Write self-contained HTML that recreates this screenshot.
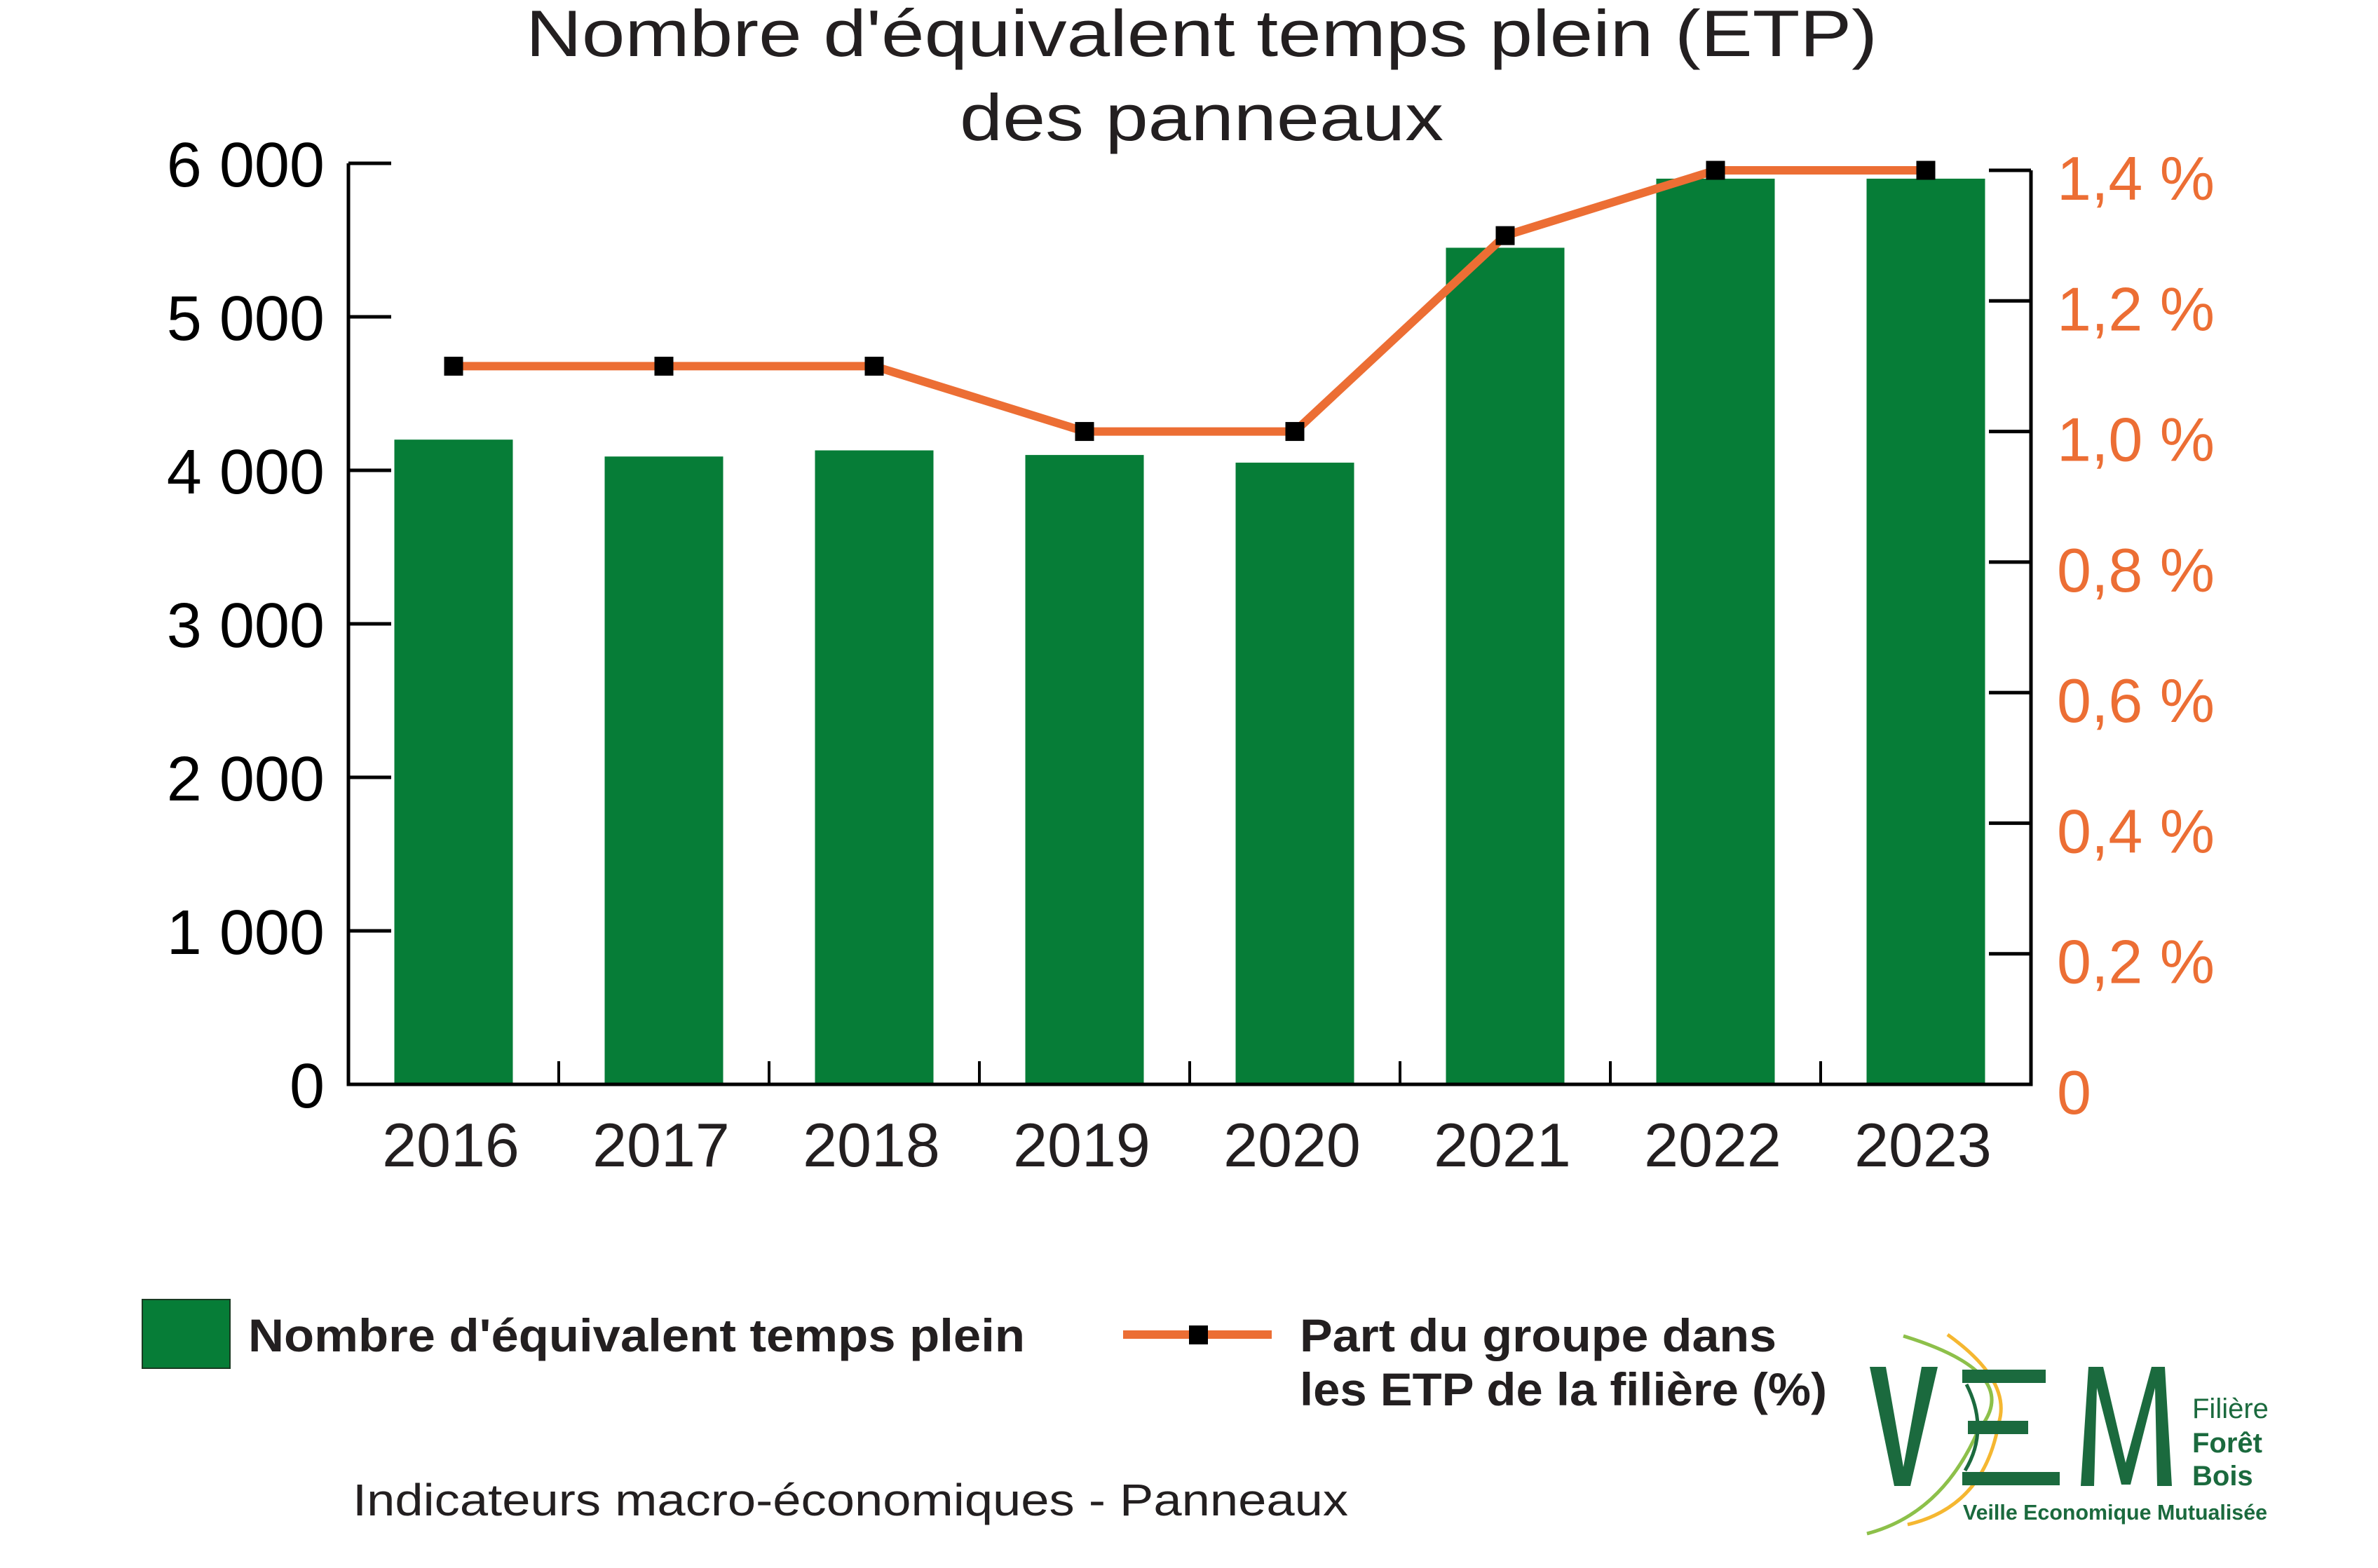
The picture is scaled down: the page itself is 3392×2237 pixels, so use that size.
<!DOCTYPE html>
<html><head><meta charset="utf-8"><style>
html,body{margin:0;padding:0;background:#fff;}
svg{display:block;}
text{font-family:"Liberation Sans",sans-serif;}
</style></head><body>
<svg id="chart" width="3392" height="2237" viewBox="0 0 3392 2237" xmlns="http://www.w3.org/2000/svg">
<g fill="#231f20" font-size="94" text-anchor="middle">
<text x="1714" y="80" textLength="1928" lengthAdjust="spacingAndGlyphs">Nombre d'équivalent temps plein (ETP)</text>
<text x="1714" y="200" textLength="690" lengthAdjust="spacingAndGlyphs">des panneaux</text>
</g>
<g id="plot"></g>
<g>
<rect x="203" y="1854" width="125" height="98" fill="#067d37" stroke="#1a3a22" stroke-width="2"/>
<text x="354" y="1928" font-size="66" font-weight="bold" fill="#231f20" textLength="1108" lengthAdjust="spacingAndGlyphs">Nombre d'équivalent temps plein</text>
<line x1="1602" y1="1904" x2="1814" y2="1904" stroke="#ec6e34" stroke-width="12"/>
<rect x="1696" y="1891" width="27" height="27" fill="#000"/>
<text x="1854" y="1928" font-size="66" font-weight="bold" fill="#231f20" textLength="680" lengthAdjust="spacingAndGlyphs">Part du groupe dans</text>
<text x="1854" y="2005" font-size="66" font-weight="bold" fill="#231f20" textLength="752" lengthAdjust="spacingAndGlyphs">les ETP de la filière  (%)</text>
</g>
<text x="503" y="2162" font-size="64" fill="#231f20" textLength="1420" lengthAdjust="spacingAndGlyphs">Indicateurs macro-économiques - Panneaux</text>
<g>
<path d="M2715,1906 Q2890,1960 2822,2040 Q2770,2160 2663,2188" fill="none" stroke="#8dc04a" stroke-width="5"/>
<path d="M2778,1904 Q2870,1970 2851,2030 Q2830,2150 2721,2175" fill="none" stroke="#f5b731" stroke-width="5"/>
<path d="M2805,1975 Q2838,2040 2803,2098" fill="none" stroke="#1b6a3e" stroke-width="5"/>
<polygon fill="#1b6a3e" points="2667,1950 2690,1950 2715,2093 2741,1950 2764,1950 2725,2120 2702,2120"/>
<rect x="2799" y="1954" width="119" height="19" fill="#1b6a3e"/>
<rect x="2807" y="2027" width="86" height="19" fill="#1b6a3e"/>
<rect x="2799" y="2100" width="139" height="19" fill="#1b6a3e"/>
<polygon fill="#1b6a3e" points="2979,1950 3000,1950 3032,2087 3069,1950 3088,1950 3098,2120 3077,2120 3074,1980 3039,2118 3026,2118 2991,1980 2987,2120 2968,2120"/>
<text x="3127" y="2023" font-size="40" fill="#1b6a3e" style="font-family:'Liberation Sans Narrow','Liberation Sans',sans-serif">Filière</text>
<text x="3127" y="2072" font-size="40" font-weight="bold" fill="#1b6a3e" style="font-family:'Liberation Sans Narrow','Liberation Sans',sans-serif">Forêt</text>
<text x="3127" y="2119" font-size="40" font-weight="bold" fill="#1b6a3e" style="font-family:'Liberation Sans Narrow','Liberation Sans',sans-serif">Bois</text>
<text x="2800" y="2168" font-size="31" font-weight="bold" fill="#1b6a3e" textLength="434" lengthAdjust="spacingAndGlyphs" style="font-family:'Liberation Sans Narrow','Liberation Sans',sans-serif">Veille Economique Mutualisée</text>
</g>
</svg>
<script>
const categories = ["2016","2017","2018","2019","2020","2021","2022","2023"];
const etpValues = [4200, 4090, 4130, 4100, 4050, 5450, 5900, 5900];
const shareValues = [1.1, 1.1, 1.1, 1.0, 1.0, 1.3, 1.4, 1.4];
const leftTicks = [0, 1000, 2000, 3000, 4000, 5000, 6000];
const leftTickLabels = ["0","1 000","2 000","3 000","4 000","5 000","6 000"];
const rightTicks = [0, 0.2, 0.4, 0.6, 0.8, 1.0, 1.2, 1.4];
const rightTickLabels = ["0","0,2 %","0,4 %","0,6 %","0,8 %","1,0 %","1,2 %","1,4 %"];

const NS = "http://www.w3.org/2000/svg";
const plot = document.getElementById("plot");
const X0 = 497, X1 = 2897, BASE = 1547;
const yL = v => BASE - (BASE - 233) * v / 6000;
const yR = v => BASE - (BASE - 243) * v / 1.4;
const band = (X1 - X0) / categories.length;
const xC = i => X0 + band * (i + 0.5);
function mk(tag, attrs) { const e = document.createElementNS(NS, tag); for (const k in attrs) e.setAttribute(k, attrs[k]); plot.appendChild(e); return e; }

etpValues.forEach((v, i) => {
  const r = mk("rect", {x: xC(i) - 84.5, y: yL(v), width: 169, height: BASE - yL(v), fill: "#067d37"});
  
  
});
let a = mk("path", {d: `M${X0},${yL(6000)} V${BASE} H${X1} V${yR(1.4)}`, fill: "none", stroke: "#000", "stroke-width": 5});


leftTicks.forEach((v, i) => {
  const t = mk("line", {x1: X0, x2: X0 + 61, y1: yL(v), y2: yL(v), stroke: "#000", "stroke-width": 5});
  
  
  const l = mk("text", {x: 463, y: yL(v) + 33, "font-size": 90, "text-anchor": "end", fill: "#000"});
  l.textContent = leftTickLabels[i];
  
  
});
rightTicks.forEach((v, i) => {
  const t = mk("line", {x1: X1 - 60, x2: X1, y1: yR(v), y2: yR(v), stroke: "#000", "stroke-width": 5});
  
  
  const l = mk("text", {x: 2964 - 30, y: yR(v) + 42, "font-size": 88, fill: "#ec6e34"});
  l.textContent = rightTickLabels[i];
  
  
});
categories.forEach((c, i) => {
  if (i > 0) {
    const t = mk("line", {x1: X0 + band * i, x2: X0 + band * i, y1: BASE, y2: BASE - 33, stroke: "#000", "stroke-width": 4});
    
    
  }
  const l = mk("text", {x: xC(i) - 4, y: 1664, "font-size": 88, "text-anchor": "middle", fill: "#231f20"});
  l.textContent = c;
  
  
});
const ln = mk("polyline", {points: shareValues.map((v, i) => `${xC(i)},${yR(v)}`).join(" "), fill: "none", stroke: "#ec6e34", "stroke-width": 12, "stroke-linejoin": "round"});


shareValues.forEach((v, i) => {
  const m = mk("rect", {x: xC(i) - 13.5, y: yR(v) - 13.5, width: 27, height: 27, fill: "#000"});
  
  
});
</script>
</body></html>
